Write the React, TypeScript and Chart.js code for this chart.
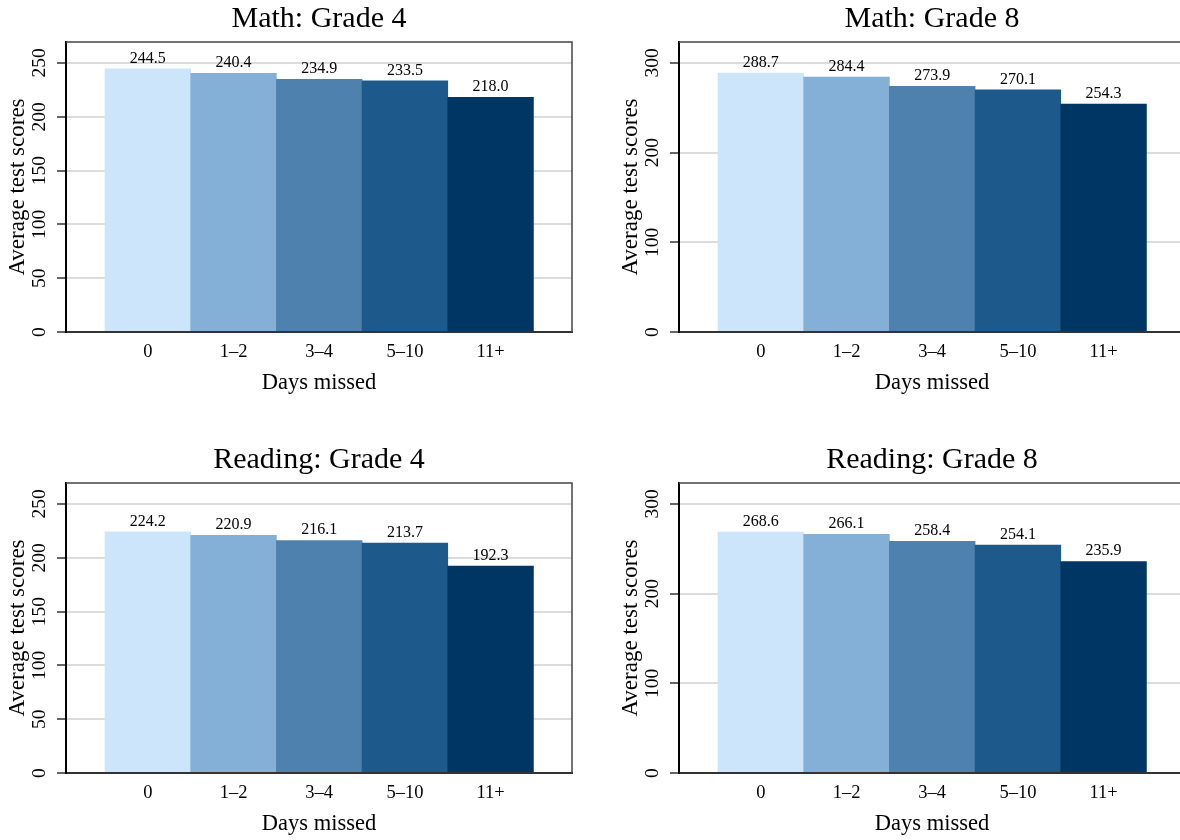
import React, { useEffect, useRef } from "react";
import { Chart, registerables } from "chart.js";

Chart.register(...registerables);

const categories = ["0", "1–2", "3–4", "5–10", "11+"];
const mathGrade4 = [244.5, 240.4, 234.9, 233.5, 218.0];
const mathGrade8 = [288.7, 284.4, 273.9, 270.1, 254.3];
const readingGrade4 = [224.2, 220.9, 216.1, 213.7, 192.3];
const readingGrade8 = [268.6, 266.1, 258.4, 254.1, 235.9];
const yTicksGrade4 = [0, 50, 100, 150, 200, 250];
const yTicksGrade8 = [0, 100, 200, 300];
const yMaxGrade4 = 269.5;
const yMaxGrade8 = 323.4;
const barColors = ["#cde5fb", "#84afd7", "#4e81ae", "#1d5a8b", "#003664"];

const FONT = "'Liberation Serif', 'Times New Roman', serif";

type PanelProps = {
  title: string;
  values: number[];
  yTicks: number[];
  yMax: number;
  left: number;
  top: number;
};

function Panel({ title, values, yTicks, yMax, left, top }: PanelProps) {
  const ref = useRef<HTMLCanvasElement | null>(null);
  useEffect(() => {
    if (!ref.current) return;
    const overlay = {
      id: "overlay",
      afterDraw(chart: any) {
        const { ctx, chartArea: a, scales } = chart;
        const y = scales.y;
        ctx.save();
        ctx.strokeStyle = "#444";
        ctx.lineWidth = 1.5;
        ctx.beginPath();
        ctx.moveTo(a.left, a.top);
        ctx.lineTo(a.right, a.top);
        ctx.lineTo(a.right, a.bottom);
        ctx.stroke();

        ctx.fillStyle = "#000";
        ctx.font = `30px ${FONT}`;
        ctx.textAlign = "center";
        ctx.textBaseline = "middle";
        ctx.fillText(title, (a.left + a.right) / 2, 19);

        ctx.font = `19.5px ${FONT}`;
        y.ticks.forEach((t: any) => {
          const py = y.getPixelForValue(t.value);
          ctx.save();
          ctx.translate(40, py);
          ctx.rotate(-Math.PI / 2);
          ctx.fillText(String(t.value), 0, 0);
          ctx.restore();
        });

        ctx.font = `16px ${FONT}`;
        ctx.textBaseline = "alphabetic";
        const meta = chart.getDatasetMeta(0);
        meta.data.forEach((bar: any, i: number) => {
          ctx.fillText(values[i].toFixed(1), bar.x, bar.y - 6);
        });
        ctx.restore();
      },
    };

    const chart = new Chart(ref.current, {
      type: "bar",
      data: {
        datasets: [
          {
            data: values.map((v, i) => ({ x: i, y: v })) as any,
            backgroundColor: barColors,
            borderWidth: 0,
            barPercentage: 1,
            categoryPercentage: 1,
          },
        ],
      },
      options: {
        responsive: false,
        animation: false,
        devicePixelRatio: 1,
        layout: { padding: { top: 42, right: 28, left: 0, bottom: 0 } },
        plugins: {
          legend: { display: false },
          tooltip: { enabled: false },
          title: { display: false },
        },
        scales: {
          x: {
            type: "linear",
            offset: false,
            min: -0.955,
            max: 4.95,
            afterBuildTicks: (s: any) => {
              s.ticks = categories.map((_, i) => ({ value: i }));
            },
            afterFit: (s: any) => {
              s.height = 70;
            },
            grid: { display: false, drawTicks: false, offset: false },
            border: { display: true, color: "#333", width: 2, z: 1 } as any,
            ticks: {
              callback: (v: any) => categories[v as number],
              color: "#000",
              font: { family: FONT, size: 18.5 },
              padding: 9,
              autoSkip: false,
              maxRotation: 0,
              minRotation: 0,
            },
            title: {
              display: true,
              text: "Days missed",
              color: "#000",
              font: { family: FONT, size: 22.5 },
              padding: { top: 0, bottom: 5 },
            },
          },
          y: {
            type: "linear",
            min: 0,
            max: yMax,
            afterBuildTicks: (s: any) => {
              s.ticks = yTicks.map((v) => ({ value: v }));
            },
            afterFit: (s: any) => {
              s.width = 66;
            },
            grid: {
              color: "#dcdcdc",
              lineWidth: 2,
              tickLength: 9,
              tickColor: "#333",
              tickWidth: 1.5,
              drawTicks: true,
            },
            border: { display: true, color: "#000", width: 2, z: 1 } as any,
            ticks: { display: false },
            title: {
              display: true,
              text: "Average test scores",
              color: "#000",
              font: { family: FONT, size: 23 },
              padding: { top: 4, bottom: 0 },
            },
          },
        },
      },
      plugins: [overlay],
    });
    return () => chart.destroy();
  }, []);
  return (
    <canvas
      ref={ref}
      width={600}
      height={402}
      style={{ position: "absolute", left, top, width: 600, height: 402 }}
    />
  );
}

export default function App() {
  return (
    <div
      style={{
        position: "fixed",
        left: 0,
        top: 0,
        width: 1180,
        height: 840,
        overflow: "hidden",
        background: "#fff",
      }}
    >
      <Panel title="Math: Grade 4" values={mathGrade4} yTicks={yTicksGrade4} yMax={yMaxGrade4} left={0} top={0} />
      <Panel title="Math: Grade 8" values={mathGrade8} yTicks={yTicksGrade8} yMax={yMaxGrade8} left={613} top={0} />
      <Panel title="Reading: Grade 4" values={readingGrade4} yTicks={yTicksGrade4} yMax={yMaxGrade4} left={0} top={441} />
      <Panel title="Reading: Grade 8" values={readingGrade8} yTicks={yTicksGrade8} yMax={yMaxGrade8} left={613} top={441} />
    </div>
  );
}
